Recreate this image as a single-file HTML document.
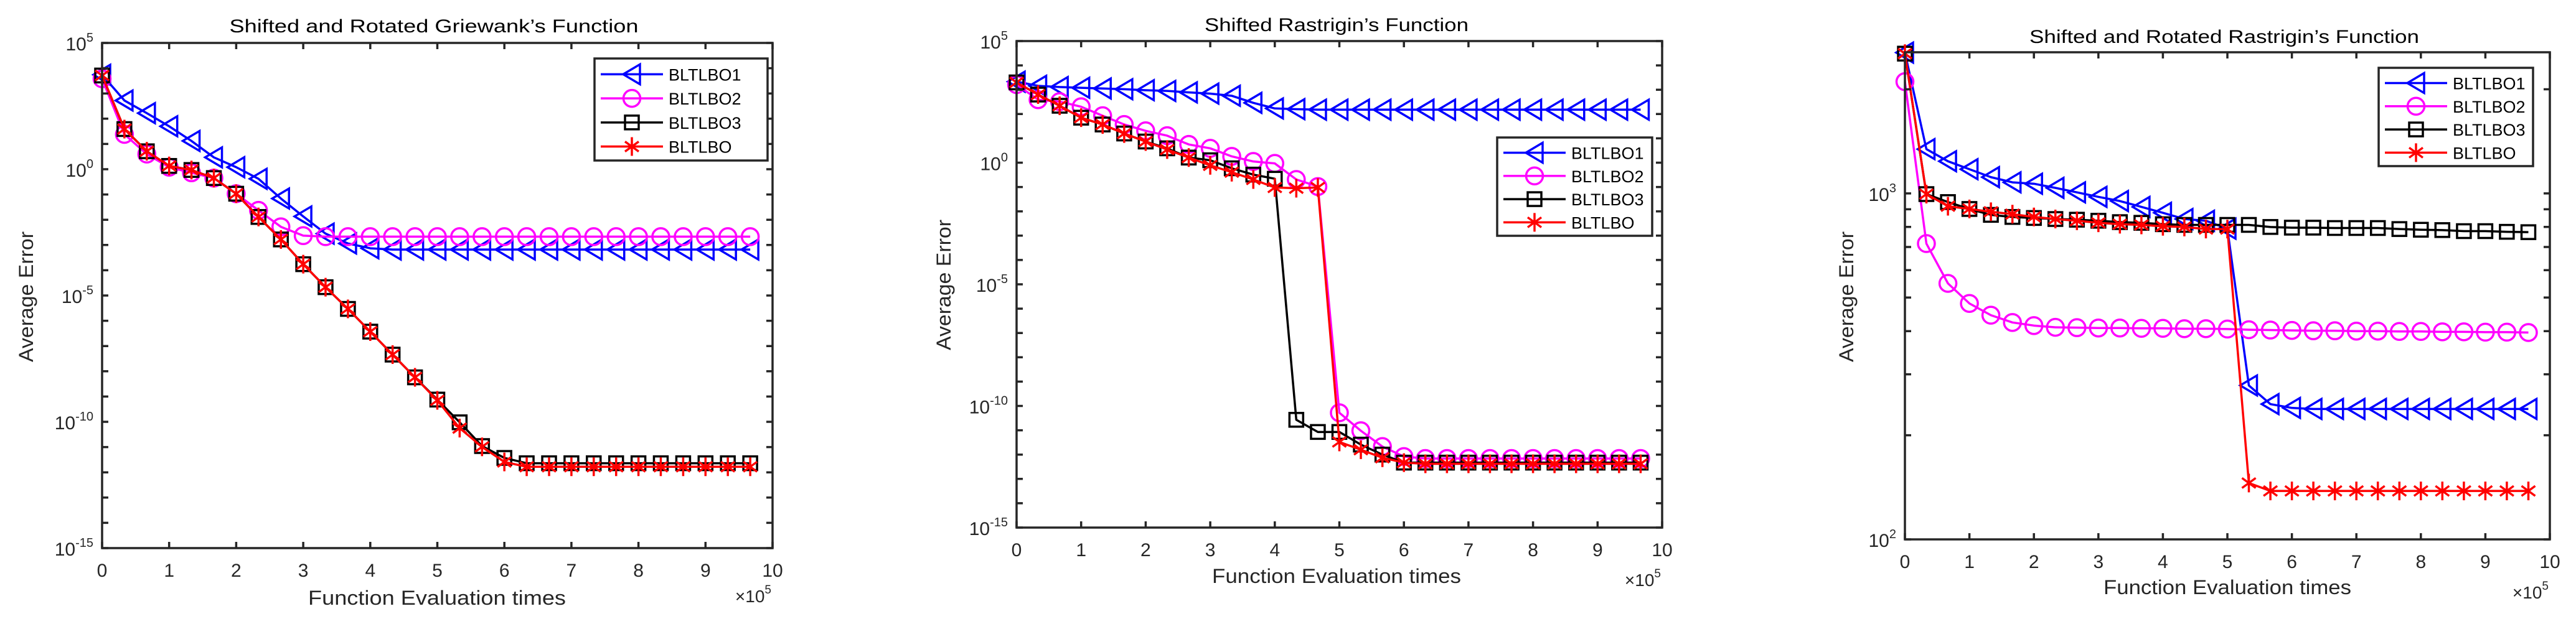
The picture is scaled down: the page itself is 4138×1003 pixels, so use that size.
<!DOCTYPE html>
<html><head><meta charset="utf-8"><style>
body{margin:0;background:#fff;}
svg{display:block;font-family:"Liberation Sans",Arial,sans-serif;}
</style></head><body>
<svg id="fig" width="4138" height="1003" viewBox="0 0 4138 1003" xmlns="http://www.w3.org/2000/svg"></svg>
<script>
const evals = [0,0.333,0.667,1,1.333,1.667,2,2.333,2.667,3,3.333,3.667,4,4.333,4.667,5,5.333,5.667,6,6.333,6.667,7,7.333,7.667,8,8.333,8.667,9,9.333,9.667];
const seriesNames = ["BLTLBO1","BLTLBO2","BLTLBO3","BLTLBO"];
const xTicks = [0,1,2,3,4,5,6,7,8,9,10];
// log10 of average error
const griewank1 = [3.74,2.72,2.22,1.70,1.12,0.47,0.08,-0.38,-1.16,-1.87,-2.55,-2.94,-3.13,-3.18,-3.18,-3.18,-3.18,-3.18,-3.18,-3.18,-3.18,-3.18,-3.18,-3.18,-3.18,-3.18,-3.18,-3.18,-3.18,-3.18];
const griewank2 = [3.58,1.38,0.60,0.08,-0.14,-0.35,-0.97,-1.63,-2.28,-2.63,-2.67,-2.67,-2.67,-2.67,-2.67,-2.67,-2.67,-2.67,-2.67,-2.67,-2.67,-2.67,-2.67,-2.67,-2.67,-2.67,-2.67,-2.67,-2.67,-2.67];
const griewank3 = [3.71,1.59,0.71,0.13,-0.03,-0.35,-0.97,-1.89,-2.78,-3.76,-4.67,-5.53,-6.43,-7.34,-8.24,-9.12,-10.02,-10.96,-11.43,-11.64,-11.64,-11.64,-11.64,-11.64,-11.64,-11.64,-11.64,-11.64,-11.64,-11.64];
const griewank4 = [3.71,1.59,0.71,0.13,-0.03,-0.35,-0.97,-1.89,-2.78,-3.76,-4.67,-5.53,-6.43,-7.34,-8.24,-9.15,-10.25,-10.99,-11.59,-11.78,-11.78,-11.78,-11.78,-11.78,-11.78,-11.78,-11.78,-11.78,-11.78,-11.78];
const rastrigin1 = [3.33,3.16,3.11,3.08,3.05,3.02,2.98,2.95,2.89,2.84,2.75,2.46,2.23,2.20,2.18,2.18,2.18,2.18,2.18,2.18,2.18,2.18,2.18,2.18,2.18,2.18,2.18,2.18,2.18,2.18];
const rastrigin2 = [3.21,2.59,2.51,2.30,1.93,1.57,1.31,1.11,0.75,0.59,0.26,0.05,-0.03,-0.69,-0.98,-10.28,-11.02,-11.67,-12.08,-12.16,-12.16,-12.16,-12.16,-12.16,-12.16,-12.16,-12.16,-12.16,-12.16,-12.16];
const rastrigin3 = [3.30,2.80,2.34,1.85,1.57,1.20,0.87,0.59,0.21,0.10,-0.23,-0.49,-0.66,-10.57,-11.07,-11.07,-11.59,-12.0,-12.33,-12.33,-12.33,-12.33,-12.33,-12.33,-12.33,-12.33,-12.33,-12.33,-12.33,-12.33];
const rastrigin4 = [3.30,2.80,2.34,1.85,1.57,1.20,0.87,0.54,0.21,-0.11,-0.39,-0.69,-1.02,-1.05,-1.02,-11.48,-11.80,-12.13,-12.33,-12.38,-12.38,-12.38,-12.38,-12.38,-12.38,-12.38,-12.38,-12.38,-12.38,-12.38];
const rotRas1 = [3.407,3.128,3.093,3.070,3.047,3.032,3.028,3.016,3.003,2.990,2.978,2.961,2.944,2.926,2.921,2.898,2.445,2.391,2.380,2.377,2.377,2.377,2.377,2.377,2.377,2.377,2.377,2.377,2.377,2.377];
const rotRas2 = [3.323,2.855,2.740,2.682,2.648,2.627,2.618,2.613,2.612,2.611,2.611,2.610,2.610,2.609,2.609,2.608,2.606,2.605,2.604,2.603,2.603,2.602,2.602,2.601,2.601,2.600,2.600,2.599,2.599,2.598];
const rotRas3 = [3.404,2.998,2.975,2.955,2.938,2.932,2.929,2.926,2.924,2.921,2.917,2.915,2.911,2.909,2.909,2.909,2.909,2.903,2.901,2.901,2.900,2.900,2.900,2.897,2.895,2.894,2.891,2.891,2.889,2.888];
const rotRas4 = [3.404,2.998,2.963,2.955,2.947,2.940,2.932,2.926,2.921,2.915,2.911,2.909,2.905,2.903,2.897,2.897,2.163,2.140,2.140,2.140,2.140,2.140,2.140,2.140,2.140,2.140,2.140,2.140,2.140,2.140];
const yMajorWide = [5,0,-5,-10,-15];
const yMajor3 = [2,3];

const NS="http://www.w3.org/2000/svg";
const svg=document.getElementById('fig');
function mk(tag,attrs,parent){const e=document.createElementNS(NS,tag);for(const k in attrs)e.setAttribute(k,attrs[k]);(parent||svg).appendChild(e);return e;}
const colors=["#0000ff","#ff00ff","#000000","#ff0000"];
const shapes=["tri","circ","sq","star"];

function marker(g,shape,x,y,c){
  let m;
  if(shape==="tri"){m=mk('polygon',{points:`${x-14},${y} ${x+13},${y-16} ${x+13},${y+16}`,fill:'none',stroke:c,'stroke-width':3.5},g);}
  else if(shape==="circ"){m=mk('circle',{cx:x,cy:y,r:13.5,fill:'none',stroke:c,'stroke-width':3.5},g);}
  else if(shape==="sq"){m=mk('rect',{x:x-11,y:y-11,width:22,height:22,fill:'none',stroke:c,'stroke-width':3.5},g);}
  else {m=mk('path',{d:`M${x},${y-15}V${y+15}M${x-11},${y-8}L${x+11},${y+8}M${x-11},${y+8}L${x+11},${y-8}`,fill:'none',stroke:c,'stroke-width':3.5},g);}
  
  
}

function chart(o){
  const g=mk('g',{});
  
  
  const sx=v=>o.L+(v/10)*(o.R-o.L);
  const sy=v=>o.B-(v-o.ymin)/(o.ymax-o.ymin)*(o.B-o.T);
  // series
  o.series.forEach((arr,si)=>{
    const sg=mk('g',{},g);
    
    
    const pts=arr.map((v,i)=>`${sx(evals[i])},${sy(v)}`).join(' ');
    const pl=mk('polyline',{points:pts,fill:'none',stroke:colors[si],'stroke-width':3.5,'stroke-linejoin':'round'},sg);
    
    
    arr.forEach((v,i)=>marker(sg,shapes[si],sx(evals[i]),sy(v),colors[si]));
  });
  // axes box
  const box=mk('rect',{x:o.L,y:o.T,width:o.R-o.L,height:o.B-o.T,fill:'none',stroke:'#262626','stroke-width':3.5},g);
  
  
  xTicks.forEach(t=>{
    const x=sx(t);
    mk('path',{d:`M${x},${o.B}V${o.B-10}M${x},${o.T}V${o.T+10}`,stroke:'#262626','stroke-width':3.5},g);
    const tl=mk('text',{x:x,y:o.B+46,'font-size':30,'text-anchor':'middle',fill:'#262626'},g);
    tl.textContent=t;
    
    
  });
  o.yticks.forEach(t=>{
    const y=sy(t);
    mk('path',{d:`M${o.L},${y}H${o.L+10}M${o.R},${y}H${o.R-10}`,stroke:'#262626','stroke-width':3.5},g);
  });
  o.ylabels.forEach(t=>{
    const y=sy(t);
    const tl=mk('text',{x:o.L-14,y:y+12,'font-size':30,'text-anchor':'end',fill:'#262626'},g);
    
    
    tl.appendChild(document.createTextNode('10'));
    const ts=mk('tspan',{'font-size':20,dy:-14},tl);ts.textContent=String(t);
  });
  const ti=mk('text',{x:o.tx,y:o.ty,'font-size':30,'text-anchor':'middle',fill:'#000',textLength:o.tw,lengthAdjust:'spacingAndGlyphs'},g);
  ti.textContent=o.title;
  
  
  const xl=mk('text',{x:o.xlx,y:o.xly,'font-size':32,'text-anchor':'middle',fill:'#262626',textLength:o.xlw,lengthAdjust:'spacingAndGlyphs'},g);
  xl.textContent='Function Evaluation times';
  
  
  const yl=mk('text',{x:0,y:0,'font-size':32,'text-anchor':'middle',fill:'#262626',transform:`translate(${o.ylx},${o.yly}) rotate(-90)`,textLength:210,lengthAdjust:'spacingAndGlyphs'},g);
  yl.textContent='Average Error';
  
  
  const ex=mk('text',{x:o.R-2,y:o.exy,'font-size':28,'text-anchor':'end',fill:'#262626'},g);
  
  
  ex.appendChild(document.createTextNode('\u00d710'));
  const es=mk('tspan',{'font-size':19,dy:-14},ex);es.textContent='5';
  // legend
  const lg=mk('g',{},g);
  
  
  mk('rect',{x:o.lx,y:o.ly,width:o.lw,height:o.lh,fill:'#fff',stroke:'#262626','stroke-width':3.5},lg);
  seriesNames.forEach((n,i)=>{
    const y=o.ly+o.lh*(0.155+i*0.236);
    const e=mk('g',{},lg);
    
    
    mk('line',{x1:o.lx+10,x2:o.lx+110,y1:y,y2:y,stroke:colors[i],'stroke-width':3.5},e);
    marker(e,shapes[i],o.lx+60,y,colors[i]);
    const t=mk('text',{x:o.lx+119,y:y+10,'font-size':27,fill:'#000'},e);t.textContent=n;
  });
}
const decadeTicks=[];for(let k=-15;k<=5;k++)decadeTicks.push(k);
const minor3=[2,Math.log10(200),Math.log10(300),Math.log10(400),Math.log10(500),Math.log10(600),Math.log10(700),Math.log10(800),Math.log10(900),3,Math.log10(2000)].map(v=>v<2.5?v:v);
chart({name:'griewank-chart',L:164,R:1241,T:69,B:881,ymin:-15,ymax:5,series:[griewank1,griewank2,griewank3,griewank4],
  yticks:decadeTicks,ylabels:yMajorWide,title:"Shifted and Rotated Griewank\u2019s Function",tx:697,ty:52,tw:657,
  xlx:702,xly:972,xlw:414,ylx:53,yly:477,exy:968,lx:955,ly:94,lw:278,lh:164});
chart({name:'rastrigin-chart',L:1633,R:2670,T:66,B:848,ymin:-15,ymax:5,series:[rastrigin1,rastrigin2,rastrigin3,rastrigin4],
  yticks:decadeTicks,ylabels:yMajorWide,title:"Shifted Rastrigin\u2019s Function",tx:2147,ty:50,tw:424,
  xlx:2147,xly:937,xlw:400,ylx:1527,yly:458,exy:942,lx:2405,ly:221,lw:249,lh:158});
chart({name:'rotated-rastrigin-chart',L:3060,R:4096,T:84,B:867,ymin:2,ymax:3.408,series:[rotRas1,rotRas2,rotRas3,rotRas4],
  yticks:[2,2.30103,2.47712,2.60206,2.69897,2.77815,2.8451,2.90309,2.95424,3,3.30103],ylabels:yMajor3,title:"Shifted and Rotated Rastrigin\u2019s Function",tx:3573,ty:69,tw:626,
  xlx:3578,xly:955,xlw:398,ylx:2977,yly:477,exy:962,lx:3821,ly:109,lw:248,lh:158});
</script>
</body></html>
